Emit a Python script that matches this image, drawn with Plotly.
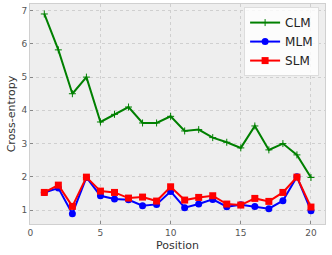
import plotly.graph_objects as go

positions = list(range(1, 21))
clm = [6.9, 5.82, 4.5, 5.0, 3.65, 3.88, 4.1, 3.62, 3.62, 3.82,
       3.38, 3.42, 3.18, 3.04, 2.87, 3.53, 2.81, 3.0, 2.66, 1.98]
mlm = [1.53, 1.66, 0.89, 1.98, 1.43, 1.33, 1.31, 1.13, 1.17, 1.56,
       1.07, 1.18, 1.32, 1.10, 1.16, 1.11, 1.04, 1.28, 2.0, 0.98]
slm = [1.53, 1.75, 1.11, 1.99, 1.57, 1.53, 1.36, 1.39, 1.27, 1.70,
       1.30, 1.38, 1.43, 1.18, 1.15, 1.35, 1.26, 1.53, 1.99, 1.09]
x_ticks = [0, 5, 10, 15, 20]
y_ticks = [1, 2, 3, 4, 5, 6, 7]

font = "DejaVu Sans"
fig = go.Figure()
fig.add_trace(go.Scatter(x=positions, y=clm, name="CLM", mode="lines+markers",
                         line=dict(color="#008000", width=2),
                         marker=dict(symbol="cross-thin", size=5,
                                     line=dict(color="#008000", width=1))))
fig.add_trace(go.Scatter(x=positions, y=mlm, name="MLM", mode="lines+markers",
                         line=dict(color="#0000ff", width=2),
                         marker=dict(symbol="circle", size=7, color="#0000ff")))
fig.add_trace(go.Scatter(x=positions, y=slm, name="SLM", mode="lines+markers",
                         line=dict(color="#ff0000", width=2),
                         marker=dict(symbol="square", size=7, color="#ff0000")))

axis_common = dict(showgrid=True, gridcolor="#cfcfcf", griddash="dot", gridwidth=1,
                   zeroline=False, showline=True, linecolor="#d0d0d0", linewidth=1,
                   mirror=True, ticks="inside", ticklen=3, tickcolor="#888888",
                   tickfont=dict(family=font, size=9, color="#555555"))

fig.update_layout(
    width=332, height=255,
    margin=dict(l=30, r=7, t=4, b=31),
    paper_bgcolor="white", plot_bgcolor="#eeeeee",
    font=dict(family=font, color="#333333"),
    xaxis=dict(range=[-0.02, 21.0], tickvals=x_ticks,
               title=dict(text="Position", font=dict(family=font, size=11, color="#333333"),
                          standoff=4),
               **axis_common),
    yaxis=dict(range=[0.58, 7.2], tickvals=y_ticks,
               title=dict(text="Cross-entropy", font=dict(family=font, size=11, color="#333333"),
                          standoff=3),
               **axis_common),
    legend=dict(x=0.98, y=0.986, xanchor="right", yanchor="top",
                bgcolor="rgba(255,255,255,0.8)", bordercolor="#dddddd", borderwidth=1,
                font=dict(family=font, size=12, color="#222222"),
                itemwidth=30, tracegroupgap=0),
    showlegend=True,
)

fig.write_html("out.html", post_script="document.body.style.margin='0';",
               config={"displayModeBar": False})
